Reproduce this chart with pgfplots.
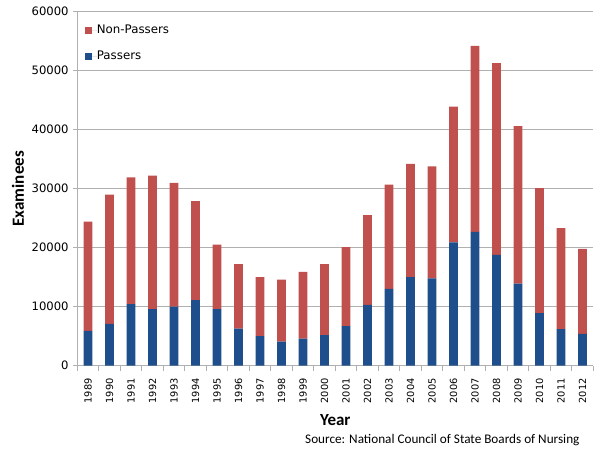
\documentclass[border=0pt]{standalone}
\usepackage{fontspec}
\setmainfont{DejaVu Sans}
\newfontfamily\calibri{Carlito}
\usepackage{pgfplots}
\usepackage{pgfplotstable}
\pgfplotsset{compat=1.18}
\definecolor{barred}{HTML}{C0504D}
\definecolor{barblue}{HTML}{1F4E8C}
\definecolor{gridgray}{HTML}{B0B0B0}

\pgfplotstableread{
x pass non
0 5900 18500
1 7100 21900
2 10450 21450
3 9600 22600
4 10000 21000
5 11100 16800
6 9600 10900
7 6300 10900
8 5000 10000
9 4100 10500
10 4600 11300
11 5200 12000
12 6700 13400
13 10300 15200
14 13000 17700
15 15000 19200
16 14800 19000
17 20900 23000
18 22700 31500
19 18800 32500
20 13900 26700
21 8900 21200
22 6200 17100
23 5400 14400
}\data

\begin{document}
\begin{tikzpicture}
\path[use as bounding box] (0,0) rectangle (601bp,451bp);
\begin{axis}[
  at={(77.3bp,85.3bp)}, anchor=south west,
  width=516bp, height=354bp, scale only axis,
  ybar stacked, bar width=8.8bp,
  xmin=-0.5, xmax=23.5, ymin=0, ymax=60000,
  ytick={0,10000,20000,30000,40000,50000,60000},
  scaled y ticks=false,
  xtick={0,...,23},
  xticklabels={1989,1990,1991,1992,1993,1994,1995,1996,1997,1998,1999,2000,2001,2002,2003,2004,2005,2006,2007,2008,2009,2010,2011,2012},
  minor xtick={-0.5,0.5,...,23.5},
  major x tick style={draw=none},
  axis x line*=bottom, axis y line*=left,
  axis line style={-, draw=gridgray, line width=0.8bp},
  tick pos=left, tick align=outside,
  major tick length=4.5bp, minor tick length=5bp,
  tick style={gridgray, line width=0.8bp},
  ymajorgrids, grid style={gridgray, line width=0.8bp},
  /pgf/number format/assume math mode=true,
  /pgf/number format/1000 sep={},
  yticklabel style={font=\fontsize{11.6bp}{13bp}\selectfont, inner sep=0pt, xshift=-4bp},
  xticklabel style={rotate=90, anchor=east, font=\fontsize{9.8bp}{11bp}\selectfont, inner sep=0pt, xshift=-8bp},
  xlabel={\calibri\bfseries Year},
  xlabel style={at={(axis description cs:0.5,-0.1703)}, anchor=base, inner sep=0pt, font=\fontsize{17bp}{20bp}\selectfont},
  ylabel={\calibri\bfseries Examinees},
  ylabel style={at={(axis description cs:-0.1149,0.5)}, anchor=center, inner sep=0pt, font=\fontsize{17bp}{20bp}\selectfont},
  reverse legend,
  legend cell align=left,
  legend image code/.code={\fill[#1] (0bp,-3.5bp) rectangle (6.7bp,3.5bp); \path (0bp,0bp) -- (11.7bp,0bp);},
  legend style={at={(axis description cs:0,1)}, anchor=north west, draw=none, fill=none,
    inner sep=0pt, xshift=7.7bp, yshift=-13.3bp,
    font=\fontsize{11.8bp}{14bp}\selectfont, row sep=15.7bp,
    nodes={inner sep=0pt}},
]
\addplot[fill=barblue, draw=none] table[x=x,y=pass]{\data};
\addlegendentry{Passers}
\addplot[fill=barred, draw=none] table[x=x,y=non]{\data};
\addlegendentry{Non-Passers}
\end{axis}
\node[anchor=base west, inner sep=0pt, font=\calibri\fontsize{13.2bp}{15bp}\selectfont] at (305bp,8bp) {Source: National Council of State Boards of Nursing};
\end{tikzpicture}
\end{document}
